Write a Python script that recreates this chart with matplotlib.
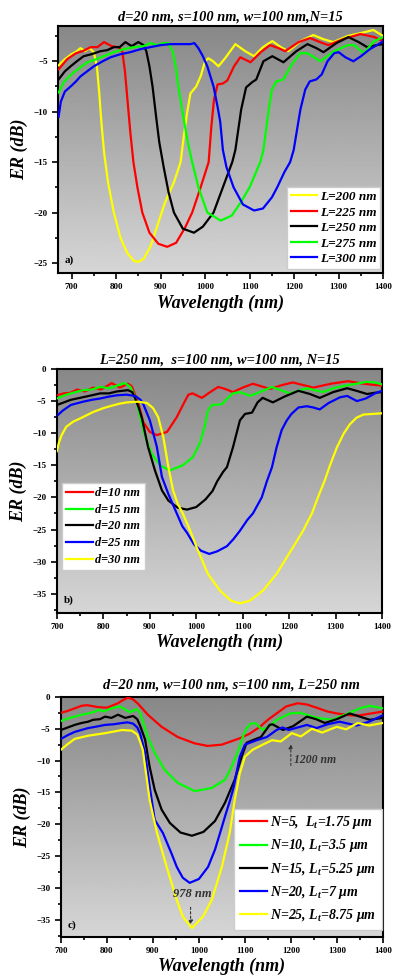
import matplotlib
matplotlib.use("Agg")
import matplotlib.pyplot as plt
import numpy as np

plt.rcParams["font.family"] = ["Liberation Serif", "DejaVu Serif"]
plt.rcParams["font.weight"] = "bold"
plt.rcParams["mathtext.fontset"] = "custom"
plt.rcParams["mathtext.rm"] = "Liberation Serif:bold:italic"
plt.rcParams["mathtext.it"] = "Liberation Serif:bold:italic"

# ---------------- panel a: varying L ----------------
a_labels = ["L=200 nm", "L=225 nm", "L=250 nm", "L=275 nm", "L=300 nm"]
a_colors = ["#ffff00", "#ff0000", "#000000", "#00ff00", "#0000ff"]

a_L200 = [(671, -5.4), (685, -4.8), (700, -4.3), (712, -4.0), (720, -3.7), (730, -4.0), (740, -3.7),
          (750, -4.1), (757, -5.5), (762, -8), (767, -11), (773, -14), (782, -17), (795, -20),
          (810, -22.5), (825, -24), (840, -24.8), (850, -24.9), (862, -24.6), (878, -23.3),
          (895, -21), (910, -19), (930, -17), (945, -15), (952, -12.5), (960, -10), (967, -8.2),
          (980, -7.5), (990, -6.5), (1000, -5), (1007, -4.7), (1018, -5), (1030, -5.5), (1045, -4.7),
          (1068, -3.3), (1090, -4.0), (1110, -4.5), (1130, -3.6), (1151, -3.0), (1170, -3.6),
          (1187, -4.0), (1215, -3.0), (1243, -2.4), (1265, -2.8), (1288, -3.1), (1320, -2.5),
          (1350, -2.2), (1378, -1.9), (1400, -2.5)]
a_L225 = [(671, -5.8), (690, -4.8), (710, -4.2), (725, -4.0), (743, -3.6), (758, -3.6), (773, -3.1),
          (790, -3.5), (805, -3.6), (814, -4.0), (820, -6), (826, -9), (832, -12), (839, -15),
          (848, -17.5), (859, -20), (875, -22), (895, -23.1), (915, -23.4), (935, -23), (955, -21.5),
          (971, -20), (990, -17.5), (1008, -15), (1014, -11.5), (1020, -8.8), (1028, -7.3),
          (1040, -7.2), (1050, -6.9), (1065, -5.5), (1079, -4.6), (1102, -5.1), (1125, -4.1),
          (1146, -3.4), (1165, -3.7), (1180, -4.0), (1210, -3.1), (1236, -2.7), (1258, -3.1),
          (1277, -3.4), (1310, -2.8), (1349, -2.3), (1380, -2.6), (1400, -3.0)]
a_L250 = [(671, -6.8), (685, -6), (698, -5.5), (712, -5.0), (727, -4.5), (745, -4.3), (765, -4.0),
          (780, -3.9), (795, -3.6), (808, -3.6), (821, -3.1), (835, -3.5), (850, -3.1), (862, -3.4),
          (868, -4.0), (875, -5.5), (882, -7.5), (890, -10.5), (897, -13), (907, -15.5), (918, -18),
          (930, -20), (950, -21.6), (975, -22), (995, -21.4), (1019, -20), (1040, -17.5),
          (1061, -15), (1068, -13.8), (1081, -9.8), (1092, -7.6), (1105, -7.1), (1115, -6.8),
          (1131, -5), (1151, -4.5), (1176, -5.1), (1205, -4.0), (1230, -3.3), (1250, -3.7),
          (1266, -4.1), (1295, -3.2), (1322, -2.6), (1345, -3.1), (1364, -3.6), (1385, -3.4),
          (1400, -3.3)]
a_L275 = [(671, -8.1), (682, -7.1), (695, -6.5), (705, -6.1), (720, -5.6), (736, -5.1), (755, -4.8),
          (772, -4.5), (795, -4.1), (817, -3.8), (840, -3.6), (862, -3.5), (877, -3.2), (892, -3.4),
          (906, -3.2), (918, -3.2), (927, -4.0), (934, -5.5), (940, -7.5), (951, -10.5), (961, -13),
          (971, -15), (985, -17.5), (1005, -20), (1035, -20.8), (1060, -20.3), (1080, -19),
          (1100, -17.5), (1124, -15), (1131, -13.8), (1143, -9.8), (1150, -7.8), (1160, -7.0),
          (1176, -6.8), (1195, -5.3), (1214, -4.2), (1230, -4.2), (1259, -5.0), (1290, -4.0),
          (1320, -3.4), (1335, -3.4), (1356, -4.2), (1380, -3.0), (1400, -2.6)]
a_L300 = [(671, -10.5), (676, -9), (685, -8), (698, -7.5), (710, -7), (720, -6.5), (735, -6),
          (750, -5.5), (770, -5), (788, -4.6), (810, -4.3), (832, -4.1), (855, -3.8), (877, -3.6),
          (900, -3.4), (922, -3.3), (945, -3.3), (967, -3.3), (976, -3.2), (985, -3.7), (995, -4.5),
          (1005, -5.5), (1019, -7.5), (1028, -9.5), (1034, -11), (1040, -13.8), (1048, -15.5),
          (1064, -17.5), (1085, -19.2), (1110, -19.8), (1130, -19.6), (1150, -18.5), (1162, -17.5),
          (1178, -16), (1191, -15), (1199, -13.8), (1214, -9.8), (1225, -7.8), (1235, -7.0),
          (1250, -6.8), (1262, -6.3), (1275, -5.0), (1290, -4.2), (1300, -4.1), (1315, -4.6),
          (1333, -5.0), (1350, -4.5), (1370, -3.8), (1390, -3.3), (1400, -3.0)]
a_series = [a_L200, a_L225, a_L250, a_L275, a_L300]

# ---------------- panel b: varying d ----------------
b_labels = ["d=10 nm", "d=15 nm", "d=20 nm", "d=25 nm", "d=30 nm"]
b_colors = ["#ff0000", "#00ff00", "#000000", "#0000ff", "#ffff00"]

b_d10 = [(700, -4.1), (715, -3.8), (730, -3.7), (743, -3.2), (760, -3.5), (778, -2.9), (795, -3.2),
         (818, -2.2), (835, -2.9), (853, -2.3), (861, -2.7), (868, -4), (875, -5.3), (886, -8.3),
         (900, -9.8), (915, -10.3), (937, -9.8), (958, -7.5), (972, -5.5), (983, -4.0), (992, -3.8),
         (1012, -4.5), (1030, -3.6), (1047, -2.8), (1062, -3.1), (1079, -3.6), (1100, -2.9),
         (1122, -2.3), (1140, -2.7), (1159, -3.1), (1185, -2.5), (1208, -2.1), (1230, -2.5),
         (1252, -2.9), (1290, -2.3), (1327, -1.9), (1360, -2.3), (1400, -2.6)]
b_d15 = [(700, -4.6), (720, -4.0), (740, -3.6), (756, -3.3), (775, -3.2), (793, -2.8), (812, -3.0),
         (829, -2.6), (846, -2.2), (858, -2.8), (866, -4), (872, -5.3), (879, -7.4), (890, -10.6),
         (904, -13.2), (922, -15), (943, -15.8), (971, -15), (993, -13.7), (1008, -11.5),
         (1018, -9), (1025, -6.5), (1034, -5.6), (1055, -5.5), (1068, -4.5), (1079, -3.8),
         (1094, -3.6), (1116, -4.2), (1140, -3.5), (1163, -2.8), (1182, -3.3), (1202, -3.8),
         (1220, -3.4), (1238, -3.0), (1255, -3.3), (1273, -3.6), (1295, -3.0), (1320, -2.6),
         (1345, -2.3), (1368, -2.0), (1385, -2.1), (1400, -2.4)]
b_d20 = [(700, -5.6), (715, -5.2), (730, -4.8), (756, -4.4), (775, -4.1), (793, -3.8), (812, -3.8),
         (829, -3.5), (853, -3.3), (862, -3.6), (868, -4.5), (876, -6), (883, -7.7), (896, -12.1),
         (911, -15.8), (926, -18.9), (940, -20.5), (960, -21.6), (980, -21.9), (1000, -21.5),
         (1020, -20.3), (1035, -19), (1045, -17.5), (1058, -16), (1066, -15.3), (1079, -12.2),
         (1094, -8), (1105, -7), (1120, -6.8), (1132, -5.2), (1143, -4.5), (1165, -5.2),
         (1190, -4.3), (1220, -3.4), (1245, -3.9), (1266, -4.5), (1295, -3.6), (1325, -3.0),
         (1345, -3.4), (1368, -3.9), (1385, -3.7), (1400, -3.6)]
b_d25 = [(700, -7.3), (712, -6.5), (730, -5.6), (756, -5.1), (775, -4.8), (793, -4.6), (812, -4.3),
         (829, -4.1), (850, -4.0), (868, -4.2), (880, -4.8), (886, -5.5), (900, -8), (915, -12.1),
         (926, -16.8), (940, -19.5), (955, -22), (970, -24.5), (980, -25.5), (995, -27.3),
         (1010, -28.3), (1028, -28.8), (1045, -28.4), (1066, -27.6), (1080, -26.5), (1094, -25.2),
         (1110, -23.5), (1122, -22.5), (1141, -20), (1152, -17.5), (1163, -15.3), (1173, -12.2),
         (1184, -9.5), (1195, -8), (1205, -7), (1220, -6), (1238, -5.8), (1252, -6.0),
         (1266, -6.3), (1285, -5.3), (1310, -4.4), (1325, -4.2), (1346, -5.0), (1365, -4.6),
         (1385, -3.8), (1400, -3.4)]
b_d30 = [(700, -12.8), (704, -11.5), (710, -10.3), (720, -9), (735, -8.2), (750, -7.7), (778, -6.7),
         (800, -6.1), (814, -5.8), (835, -5.4), (851, -5.2), (875, -5.1), (894, -5.3), (907, -6.1),
         (918, -7.5), (929, -10.6), (940, -15.3), (950, -18.9), (960, -21), (971, -22.5),
         (987, -25.2), (1001, -27.8), (1025, -31.9), (1051, -34.5), (1075, -36.1), (1094, -36.5),
         (1115, -36.1), (1144, -34.5), (1173, -31.9), (1208, -27.8), (1230, -25.2), (1249, -22.5),
         (1262, -20), (1277, -17.3), (1288, -15), (1303, -12.2), (1318, -10), (1331, -8.6),
         (1345, -7.6), (1360, -7.1), (1380, -7.0), (1400, -6.9)]
b_series = [b_d10, b_d15, b_d20, b_d25, b_d30]

# ---------------- panel c: varying N ----------------
c_labels = [r"N=5,  L$_t$=1.75 μm", r"N=10, L$_t$=3.5 μm", r"N=15, L$_t$=5.25 μm",
            r"N=20, L$_t$=7 μm", r"N=25, L$_t$=8.75 μm"]
c_colors = ["#ff0000", "#00ff00", "#000000", "#0000ff", "#ffff00"]

c_N5 = [(700, -2.5), (715, -2.2), (730, -1.8), (745, -1.4), (757, -1.3), (780, -1.6), (800, -1.7),
        (824, -1.0), (835, -0.5), (846, -0.1), (857, -0.4), (868, -1.1), (889, -2.8), (919, -4.7),
        (954, -6.3), (991, -7.3), (1019, -7.7), (1050, -7.5), (1089, -6.5), (1110, -5.8),
        (1133, -4.7), (1150, -3.6), (1169, -2.6), (1190, -1.5), (1215, -1.0), (1235, -1.2),
        (1256, -1.7), (1280, -2.3), (1300, -2.6), (1330, -2.9), (1350, -2.9), (1375, -2.6),
        (1400, -2.3)]
c_N10 = [(700, -3.8), (715, -3.4), (730, -3.1), (745, -2.8), (759, -2.6), (775, -2.3), (782, -2.0),
         (792, -2.3), (810, -1.8), (828, -1.5), (850, -2.4), (865, -1.9), (872, -2.5), (878, -3.8),
         (889, -6.3), (904, -8.8), (926, -11.5), (954, -13.5), (991, -14.8), (1028, -14.3),
         (1057, -13), (1071, -11), (1080, -9.5), (1089, -7.8), (1097, -6), (1104, -4.9),
         (1113, -4.2), (1122, -4.1), (1139, -5.2), (1155, -4.5), (1170, -3.6), (1198, -2.6),
         (1220, -2.5), (1256, -3.3), (1291, -3.6), (1310, -3.0), (1328, -2.5), (1350, -1.8),
         (1372, -1.4), (1400, -1.8)]
c_N15 = [(700, -5.2), (715, -4.8), (730, -4.4), (745, -4.1), (759, -3.9), (770, -3.6), (785, -3.5),
         (796, -3.1), (810, -3.3), (824, -2.8), (840, -3.3), (857, -3.0), (866, -3.5), (872, -4.5),
         (883, -6.7), (893, -11), (904, -14.6), (919, -17.7), (937, -19.8), (960, -21.3),
         (985, -21.8), (1010, -21.2), (1035, -19.5), (1057, -16.6), (1078, -13.0), (1093, -9.4),
         (1104, -7.2), (1117, -6.8), (1135, -6.3), (1154, -4.4), (1160, -4.3), (1183, -5.2),
         (1205, -4.6), (1235, -3.1), (1255, -3.5), (1274, -4.1), (1300, -3.5), (1328, -2.6),
         (1350, -3.1), (1372, -3.6), (1400, -3.3)]
c_N20 = [(700, -6.6), (715, -6), (730, -5.5), (759, -4.9), (775, -4.7), (796, -4.4), (815, -4.3),
         (833, -4.1), (845, -4.0), (857, -4.2), (866, -4.8), (872, -5.7), (883, -8.8), (893, -14.1),
         (904, -19.3), (922, -21.4), (940, -24.5), (952, -26.7), (965, -28.4), (980, -29.2),
         (1000, -28.6), (1020, -26.7), (1035, -24), (1046, -21.4), (1058, -18.5), (1068, -16.2),
         (1076, -14.1), (1083, -11.5), (1089, -9.4), (1100, -7.5), (1126, -6.8), (1148, -6.3),
         (1169, -5.2), (1182, -4.8), (1195, -5.2), (1215, -4.8), (1235, -4.4), (1256, -4.9),
         (1280, -4.3), (1306, -3.9), (1325, -4.2), (1343, -4.5), (1370, -3.9), (1400, -2.9)]
c_N25 = [(700, -8.3), (715, -7.4), (730, -6.6), (759, -6.1), (796, -5.7), (833, -5.2), (854, -5.3),
         (866, -5.9), (872, -7), (878, -8.3), (887, -13), (893, -16.2), (909, -21.4), (930, -26.7),
         (952, -31.9), (965, -34.5), (985, -36.3), (1009, -34.5), (1028, -31.9), (1050, -26.7),
         (1067, -21.4), (1078, -16.2), (1089, -12), (1100, -9.4), (1117, -8.3), (1139, -7.5),
         (1159, -6.8), (1178, -7.0), (1202, -5.7), (1222, -6.2), (1246, -5.0), (1268, -5.6),
         (1300, -4.7), (1320, -5.1), (1346, -4.1), (1370, -4.5), (1400, -4.1)]
c_series = [c_N5, c_N10, c_N15, c_N20, c_N25]

TITLE_KW = dict(fontsize=10.4, fontweight="bold", fontstyle="italic")
LABEL_KW = dict(fontsize=13, fontweight="bold", fontstyle="italic")


def gradient_bg(ax):
    grad = np.linspace(0.84, 0.53, 256).reshape(-1, 1)
    ax.imshow(grad, extent=(0, 1, 0, 1), transform=ax.transAxes, aspect="auto",
              cmap="gray", vmin=0, vmax=1, zorder=0, origin="lower")


def style_axes(ax, xlim, ylim, yticks, xmin_minor):
    gradient_bg(ax)
    ax.set_xlim(*xlim)
    ax.set_ylim(*ylim)
    ax.set_xticks(range(700, 1401, 100))
    ax.set_xticks(range(xmin_minor, 1400, 100), minor=True)
    ax.set_yticks(yticks)
    ax.set_yticks([t - 2.5 for t in yticks if t - 2.5 > ylim[0]], minor=True)
    ax.tick_params(which="both", direction="out", labelsize=6.5, width=1.2)
    ax.tick_params(which="major", length=4)
    ax.tick_params(which="minor", length=2.5)
    for lab in ax.get_xticklabels() + ax.get_yticklabels():
        lab.set_fontweight("bold")
    for sp in ax.spines.values():
        sp.set_linewidth(1.5)
    ax.set_xlabel("Wavelength (nm)", labelpad=2, **LABEL_KW)
    ax.set_ylabel("ER (dB)", labelpad=4, **LABEL_KW)


def draw(ax, series, labels, colors):
    for pts, lab, col in zip(series, labels, colors):
        x = [p[0] for p in pts]
        y = [p[1] for p in pts]
        ax.plot(x, y, color=col, lw=1.6, label=lab, zorder=3)


def leg_prop(size):
    return dict(family="Liberation Serif", weight="bold", style="italic", size=size)


fig = plt.figure(figsize=(3.93, 9.8), dpi=100)

# panel a
ax1 = fig.add_axes([0.148, 0.7214, 0.827, 0.2521])
draw(ax1, a_series, a_labels, a_colors)
style_axes(ax1, (670, 1400), (-26, -1.5), [-25, -20, -15, -10, -5], 750)
ax1.set_yticks([-22.5, -17.5, -12.5, -7.5, -2.5], minor=True)
ax1.set_title("d=20 nm, s=100 nm, w=100 nm,N=15", pad=4, x=0.53, **TITLE_KW)
ax1.text(0.02, 0.04, "a)", transform=ax1.transAxes, fontsize=8, fontweight="bold")
ax1.legend(loc="lower right", bbox_to_anchor=(0.991, 0.016), borderaxespad=0,
           prop=leg_prop(9.5), handlelength=2.0, handletextpad=0.2, labelspacing=0.25,
           borderpad=0.3, fancybox=False, framealpha=1, edgecolor="#cccccc")

# panel b
ax2 = fig.add_axes([0.145, 0.3745, 0.827, 0.249])
draw(ax2, b_series, b_labels, b_colors)
style_axes(ax2, (700, 1400), (-38, 0), [-35, -30, -25, -20, -15, -10, -5, 0], 750)
ax2.set_title("L=250 nm,  s=100 nm, w=100 nm, N=15", pad=4, **TITLE_KW)
ax2.text(0.02, 0.04, "b)", transform=ax2.transAxes, fontsize=8, fontweight="bold")
ax2.legend(loc="upper left", bbox_to_anchor=(0.015, 0.533), borderaxespad=0,
           prop=leg_prop(8.8), handlelength=2.2, handletextpad=0.2, labelspacing=0.38,
           borderpad=0.35, fancybox=False, framealpha=1, edgecolor="#cccccc")

# panel c
ax3 = fig.add_axes([0.155, 0.0439, 0.819, 0.245])
draw(ax3, c_series, c_labels, c_colors)
style_axes(ax3, (700, 1400), (-37.7, 0), [-35, -30, -25, -20, -15, -10, -5, 0], 750)
ax3.set_title("d=20 nm, w=100 nm, s=100 nm, L=250 nm", pad=6, x=0.53, **TITLE_KW)
ax3.text(0.02, 0.04, "c)", transform=ax3.transAxes, fontsize=8, fontweight="bold")
ax3.legend(loc="lower right", bbox_to_anchor=(0.997, 0.03), borderaxespad=0,
           prop=leg_prop(10), handlelength=2.0, handletextpad=0.2, labelspacing=0.45,
           borderpad=0.4, fancybox=False, framealpha=1, edgecolor="#cccccc")
ax3.annotate("", xy=(1200, -7.0), xytext=(1200, -11.2),
             arrowprops=dict(arrowstyle="-|>", ls=(0, (2, 2)), color="#333333", lw=0.8,
                             mutation_scale=6), zorder=4)
ax3.text(1206, -9.9, "1200 nm", fontsize=8.5, fontweight="bold", fontstyle="italic",
         va="center", color="#333333")
ax3.annotate("", xy=(982, -36.2), xytext=(982, -32.6),
             arrowprops=dict(arrowstyle="-|>", ls=(0, (2, 2)), color="#333333", lw=0.8,
                             mutation_scale=6), zorder=4)
ax3.text(985, -31.9, "978 nm", fontsize=9, fontweight="bold", fontstyle="italic",
         ha="center", va="bottom", color="#333333")

fig.savefig("out.png", dpi=100)
